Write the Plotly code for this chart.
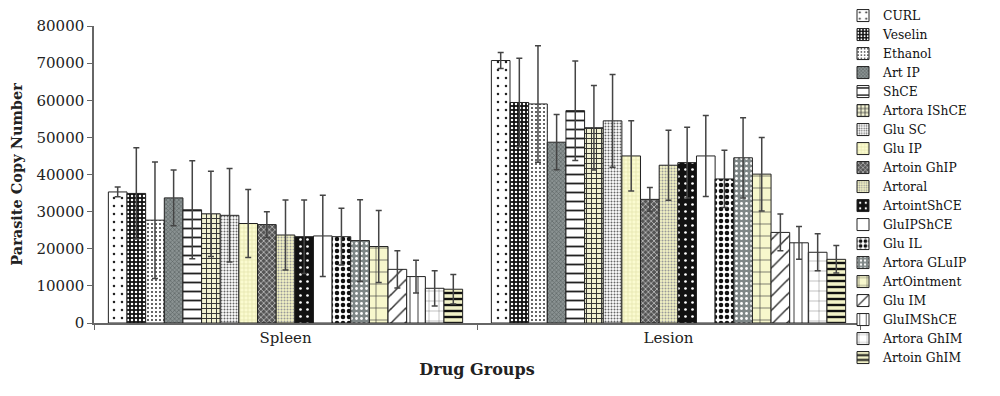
import plotly.graph_objects as go

groups = ["Spleen", "Lesion"]
names = ["CURL", "Veselin", "Ethanol", "Art IP", "ShCE", "Artora IShCE", "Glu SC", "Glu IP",
         "Artoin GhIP", "Artoral", "ArtointShCE", "GluIPShCE", "Glu IL", "Artora GLuIP",
         "ArtOintment", "Glu IM", "GluIMShCE", "Artora GhIM", "Artoin GhIM"]
spleen_mean = [35300, 34900, 27700, 33700, 30500, 29400, 29000, 26800, 26500, 23700,
               23250, 23450, 23250, 22200, 20600, 14450, 12500, 9350, 9100]
spleen_err = [1300, 12300, 15700, 7500, 13200, 11500, 12600, 9150, 3500, 9450,
              9900, 10950, 7650, 11000, 9700, 5000, 4400, 4750, 3950]
lesion_mean = [70700, 59400, 59000, 48700, 57200, 52600, 54450, 45000, 33300, 42500,
               43200, 45000, 38800, 44500, 40100, 24400, 21600, 19050, 17150]
lesion_err = [2150, 11900, 15700, 7450, 13400, 11400, 12500, 9450, 3200, 9450,
              9550, 10900, 7700, 10800, 9900, 4950, 4400, 5000, 3700]

# visual styles (bgcolor, fgcolor, shape, size, solidity)
styles = [
    ("white", "#222", ".", 8, 0.08),
    ("#111", "white", ".", 4, 0.3),
    ("white", "#333", ".", 4, 0.2),
    ("#8a9292", "#5e6666", "x", 3, 0.4),
    ("white", "#222", "-", 9, 0.2),
    ("#f2f2d2", "#333", "+", 5, 0.35),
    ("white", "#666", ".", 3, 0.35),
    ("#fbfbd0", "#e2e2a8", "+", 4, 0.3),
    ("#555", "#ddd", "x", 4, 0.3),
    ("#f2f2c4", "#999", ".", 3, 0.35),
    ("#111", "white", ".", 7, 0.12),
    ("white", "#000", "", 8, 0.1),
    ("white", "#111", ".", 6, 0.45),
    ("#7f8787", "white", ".", 5, 0.25),
    ("#f7f7cc", "#333", "+", 12, 0.1),
    ("white", "#333", "/", 10, 0.15),
    ("white", "#333", "|", 8, 0.12),
    ("white", "#555", "+", 10, 0.07),
    ("#f2f2c8", "#111", "-", 6, 0.4),
]

FONT = "DejaVu Serif"
fig = go.Figure()
for i, n in enumerate(names):
    bg, fg, shape, size, sol = styles[i]
    fig.add_trace(go.Bar(
        name=n, x=groups, y=[spleen_mean[i], lesion_mean[i]],
        marker=dict(color=bg, line=dict(color="#222", width=1),
                    pattern=dict(shape=shape, fgcolor=fg, bgcolor=bg, size=size,
                                 solidity=sol, fillmode="replace")),
        error_y=dict(type="data", array=[spleen_err[i], lesion_err[i]], visible=True,
                     color="#444", thickness=1.5, width=3),
    ))

fig.update_layout(
    width=1000, height=396, barmode="group", bargap=0.075, bargroupgap=0,
    plot_bgcolor="white", paper_bgcolor="white",
    margin=dict(l=86, r=148, t=18, b=81, autoexpand=False),
    font=dict(family=FONT, size=15, color="#222"),
    legend=dict(xref="container", yref="paper", x=0.835, y=1.084, xanchor="left", yanchor="top",
                font=dict(family=FONT, size=12.3, color="#111"), tracegroupgap=0,
                maxheight=420, bgcolor="rgba(0,0,0,0)"),
)
fig.update_xaxes(showline=True, linecolor="#666", linewidth=1.5, ticks="outside",
                 tickson="boundaries", ticklen=5, tickcolor="#666", showgrid=False, automargin=False,
                 title=dict(text="<b>Drug Groups</b>", font=dict(family=FONT, size=16), standoff=18))
fig.update_yaxes(range=[0, 80000], tickvals=list(range(0, 80001, 10000)), tickformat="d",
                 showline=True, linecolor="#666", linewidth=1.5, ticks="outside", ticklen=5,
                 tickcolor="#666", showgrid=False, zeroline=False, automargin=False,
                 title=dict(text="<b>Parasite Copy Number</b>", font=dict(family=FONT, size=14.5), standoff=10))
fig.write_html("out.html")
